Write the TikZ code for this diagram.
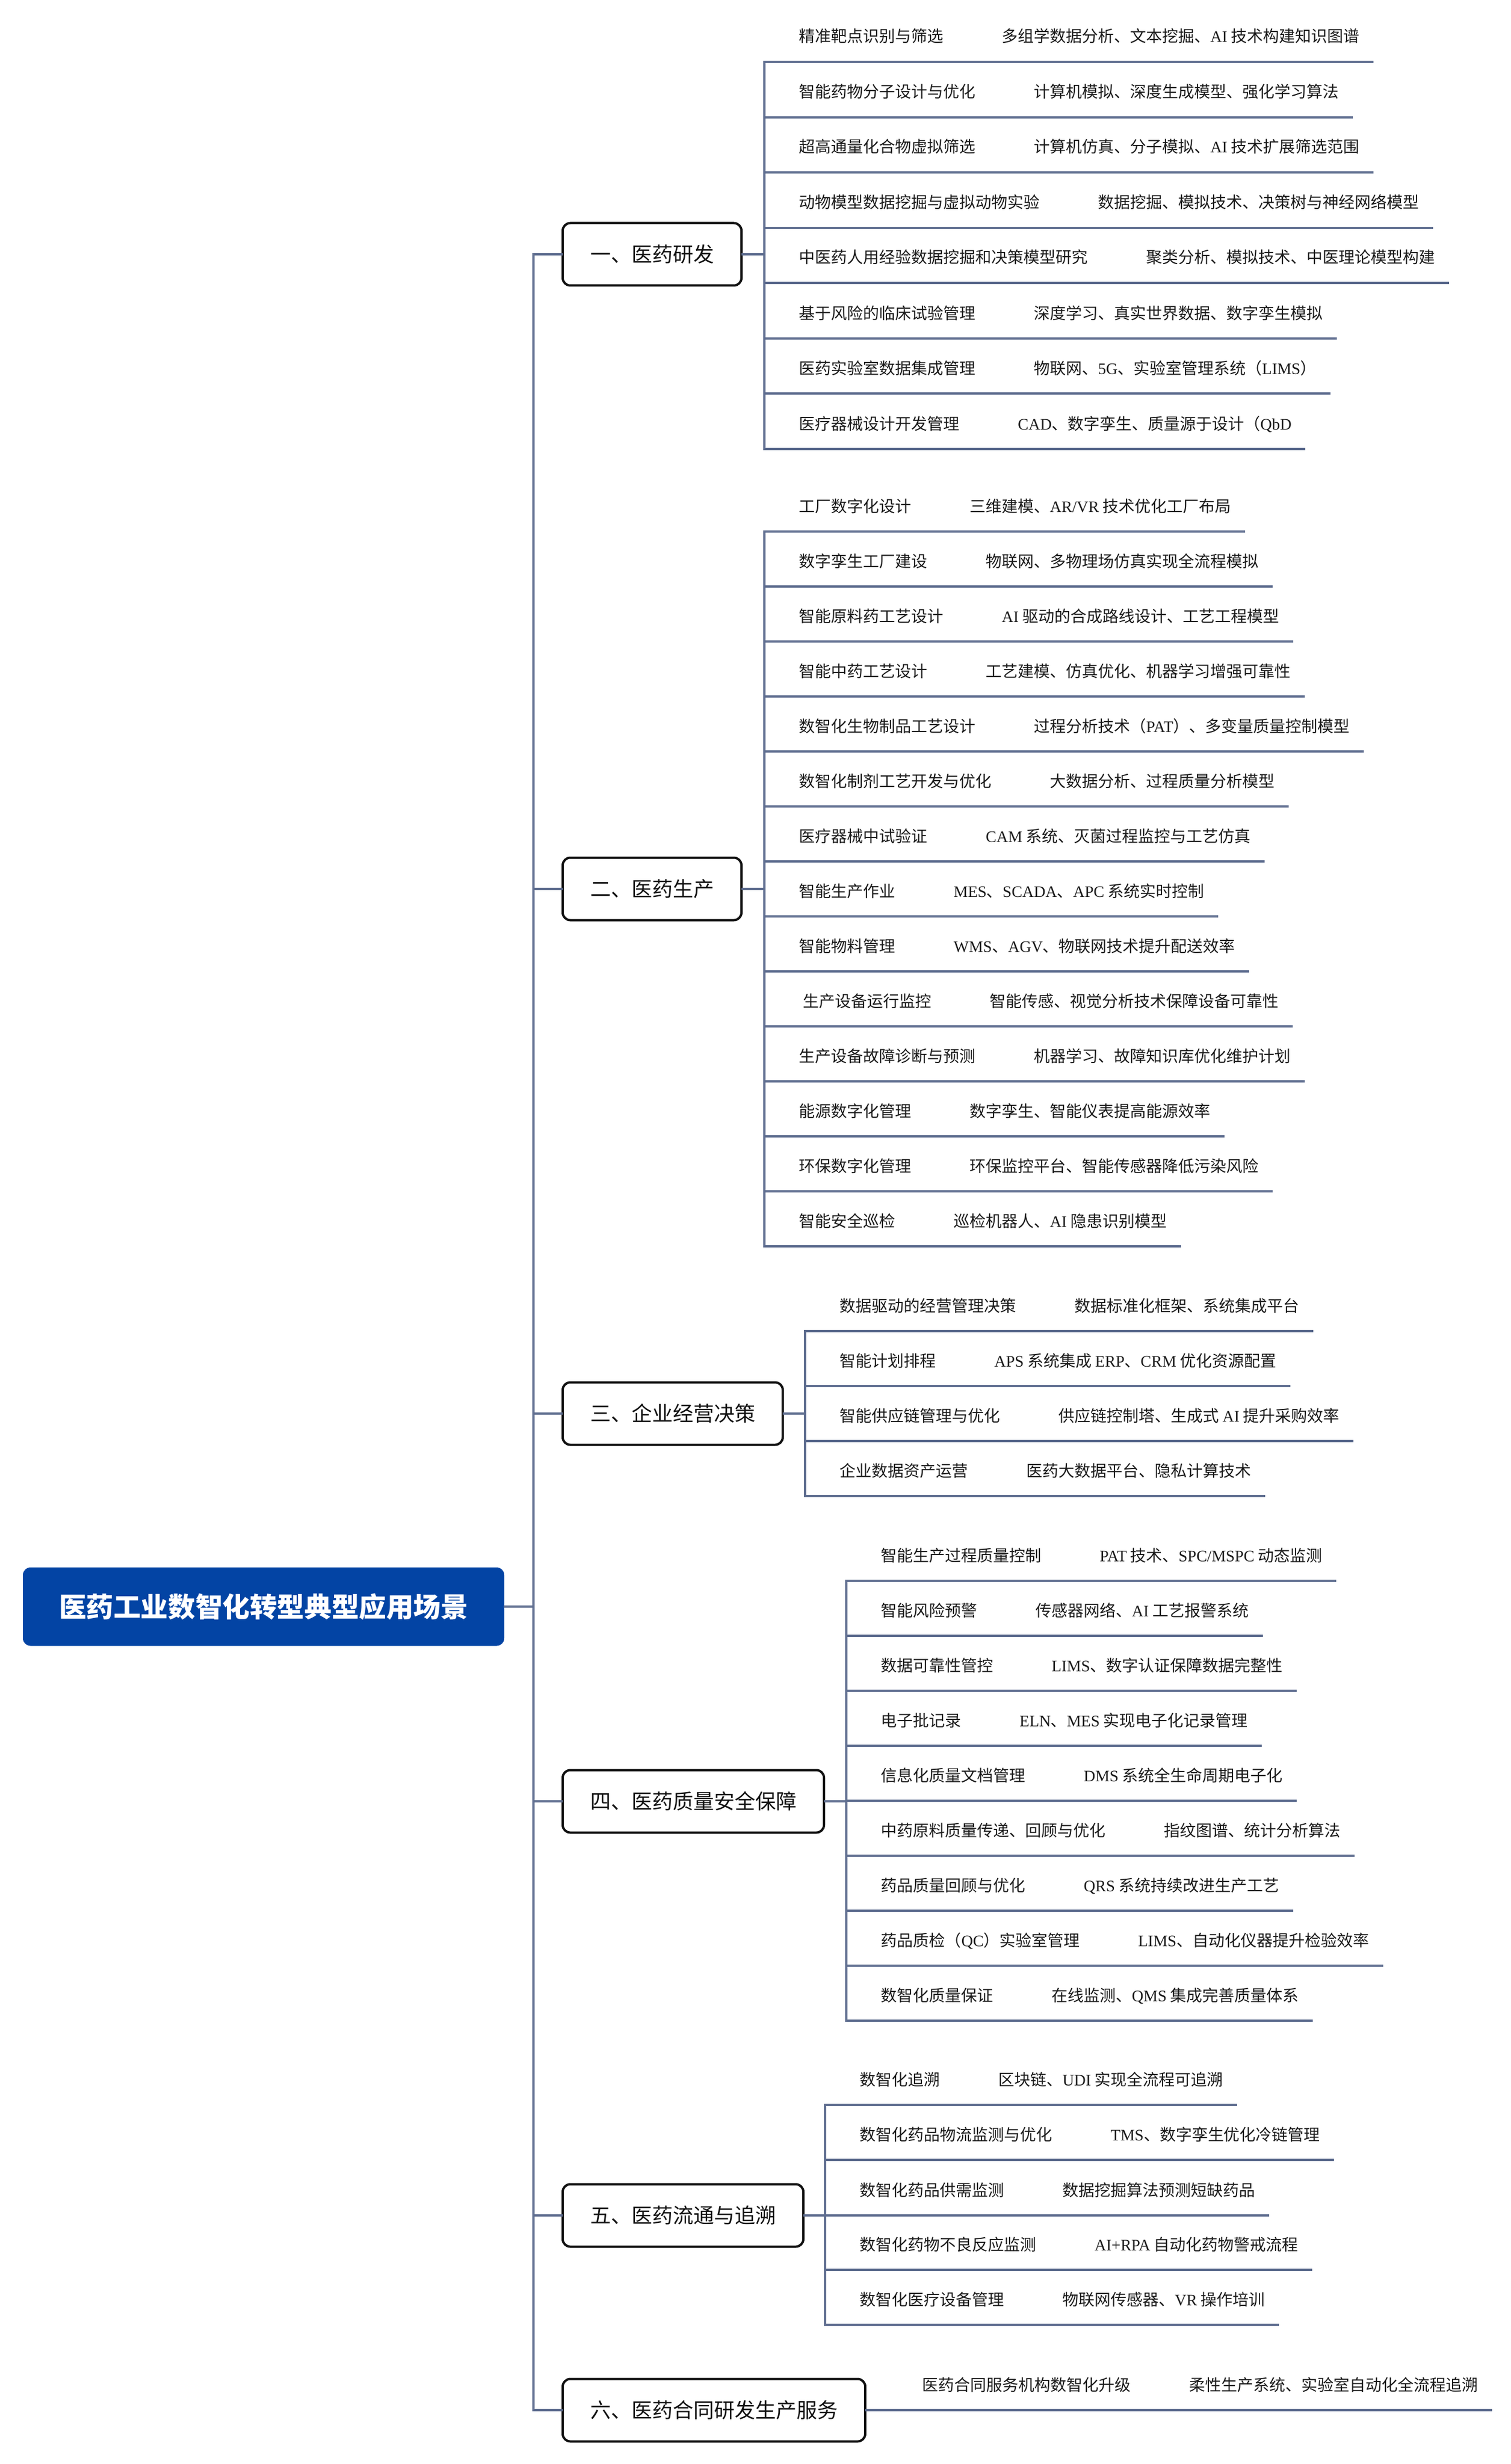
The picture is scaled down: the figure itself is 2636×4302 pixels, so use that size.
\documentclass[tikz,border=0pt]{standalone}
\usepackage{fontspec}
\setmainfont{Noto Sans CJK SC}
\newfontfamily\lat{Liberation Serif}
\definecolor{linec}{RGB}{94,109,143}
\definecolor{rootc}{RGB}{3,68,164}
\definecolor{boxc}{RGB}{17,17,17}
\definecolor{txtc}{RGB}{26,26,26}
\tikzset{
  lk/.style={draw=linec, line width=0.83pt, line cap=rect},
  leaftext/.style={font=\fontsize{7pt}{8pt}\selectfont, inner sep=0pt, anchor=base west, text=txtc},
  branchbox/.style={draw=boxc, line width=1pt, rounded corners=3.3pt, fill=white, anchor=west,
    font=\fontsize{9pt}{11pt}\selectfont, text=boxc, inner xsep=12pt, inner ysep=0pt, minimum height=27.25pt},
  rootbox/.style={fill=rootc, rounded corners=3.3pt, minimum width=210pt, minimum height=34.25pt,
    font=\fontsize{11.9pt}{14pt}\selectfont\bfseries, text=white, inner sep=0pt}
}
\newcommand\leafitem[6]{%
  \coordinate (#1s) at (#2,#4);
  \node[leaftext] (#1n) at (#3,#4-34) {#5};
  \node[leaftext] (#1t) at ([xshift=25pt]#1n.base east) {#6};
  \coordinate (#1e) at ([xshift=5.5pt]#1t.east);
  \draw[lk] (#1s) -- (#1e |- #1s);
}
\begin{document}
\begin{tikzpicture}[x=0.25pt,y=-0.25pt]
\useasboundingbox (0,0) rectangle (2636,4302);

% root
\node[rootbox] (root) at (460,2805) {医药工业数智化转型典型应用场景};

% main bus coordinates
\coordinate (m1) at (931,444);
\coordinate (m2) at (931,1552);
\coordinate (m3) at (931,2468);
\coordinate (m4) at (931,3145);
\coordinate (m5) at (931,3868);
\coordinate (m6) at (931,4208);
\draw[lk] (m1) -- (m6);
\draw[lk] (root.east) -- (root.east -| m1);

% ===== Section 1 =====
\node[branchbox] (b1) at (980,444) {一、医药研发};
\coordinate (j1) at (1334,444);
\leafitem{a1}{1334}{1394}{108}{精准靶点识别与筛选}{多组学数据分析、文本挖掘、{\lat AI} 技术构建知识图谱}
\leafitem{a2}{1334}{1394}{205}{智能药物分子设计与优化}{计算机模拟、深度生成模型、强化学习算法}
\leafitem{a3}{1334}{1394}{301}{超高通量化合物虚拟筛选}{计算机仿真、分子模拟、{\lat AI} 技术扩展筛选范围}
\leafitem{a4}{1334}{1394}{398}{动物模型数据挖掘与虚拟动物实验}{数据挖掘、模拟技术、决策树与神经网络模型}
\leafitem{a5}{1334}{1394}{494}{中医药人用经验数据挖掘和决策模型研究}{聚类分析、模拟技术、中医理论模型构建}
\leafitem{a6}{1334}{1394}{591}{基于风险的临床试验管理}{深度学习、真实世界数据、数字孪生模拟}
\leafitem{a7}{1334}{1394}{687}{医药实验室数据集成管理}{物联网、{\lat 5G}、实验室管理系统（{\lat LIMS}）}
\leafitem{a8}{1334}{1394}{784}{医疗器械设计开发管理}{{\lat CAD}、数字孪生、质量源于设计（{\lat QbD}}
\draw[lk] (a1s) -- (a8s);
\draw[lk] (m1) -- (b1.west);
\draw[lk] (b1.east) -- (j1);

% ===== Section 2 =====
\node[branchbox] (b2) at (980,1552) {二、医药生产};
\coordinate (j2) at (1334,1552);
\leafitem{c1}{1334}{1394}{928}{工厂数字化设计}{三维建模、{\lat AR/VR} 技术优化工厂布局}
\leafitem{c2}{1334}{1394}{1024}{数字孪生工厂建设}{物联网、多物理场仿真实现全流程模拟}
\leafitem{c3}{1334}{1394}{1120}{智能原料药工艺设计}{{\lat AI} 驱动的合成路线设计、工艺工程模型}
\leafitem{c4}{1334}{1394}{1216}{智能中药工艺设计}{工艺建模、仿真优化、机器学习增强可靠性}
\leafitem{c5}{1334}{1394}{1312}{数智化生物制品工艺设计}{过程分析技术（{\lat PAT}）、多变量质量控制模型}
\leafitem{c6}{1334}{1394}{1408}{数智化制剂工艺开发与优化}{大数据分析、过程质量分析模型}
\leafitem{c7}{1334}{1394}{1504}{医疗器械中试验证}{{\lat CAM} 系统、灭菌过程监控与工艺仿真}
\leafitem{c8}{1334}{1394}{1600}{智能生产作业}{{\lat MES}、{\lat SCADA}、{\lat APC} 系统实时控制}
\leafitem{c9}{1334}{1394}{1696}{智能物料管理}{{\lat WMS}、{\lat AGV}、物联网技术提升配送效率}
\leafitem{c10}{1334}{1401}{1792}{生产设备运行监控}{智能传感、视觉分析技术保障设备可靠性}
\leafitem{c11}{1334}{1394}{1888}{生产设备故障诊断与预测}{机器学习、故障知识库优化维护计划}
\leafitem{c12}{1334}{1394}{1984}{能源数字化管理}{数字孪生、智能仪表提高能源效率}
\leafitem{c13}{1334}{1394}{2080}{环保数字化管理}{环保监控平台、智能传感器降低污染风险}
\leafitem{c14}{1334}{1394}{2176}{智能安全巡检}{巡检机器人、{\lat AI} 隐患识别模型}
\draw[lk] (c1s) -- (c14s);
\draw[lk] (m2) -- (b2.west);
\draw[lk] (b2.east) -- (j2);

% ===== Section 3 =====
\node[branchbox] (b3) at (980,2468) {三、企业经营决策};
\coordinate (j3) at (1405,2468);
\leafitem{d1}{1405}{1465}{2324}{数据驱动的经营管理决策}{数据标准化框架、系统集成平台}
\leafitem{d2}{1405}{1465}{2420}{智能计划排程}{{\lat APS} 系统集成 {\lat ERP}、{\lat CRM} 优化资源配置}
\leafitem{d3}{1405}{1465}{2516}{智能供应链管理与优化}{供应链控制塔、生成式 {\lat AI} 提升采购效率}
\leafitem{d4}{1405}{1465}{2612}{企业数据资产运营}{医药大数据平台、隐私计算技术}
\draw[lk] (d1s) -- (d4s);
\draw[lk] (m3) -- (b3.west);
\draw[lk] (b3.east) -- (j3);

% ===== Section 4 =====
\node[branchbox] (b4) at (980,3145) {四、医药质量安全保障};
\coordinate (j4) at (1477,3145);
\leafitem{e1}{1477}{1537}{2760}{智能生产过程质量控制}{{\lat PAT} 技术、{\lat SPC/MSPC} 动态监测}
\leafitem{e2}{1477}{1537}{2856}{智能风险预警}{传感器网络、{\lat AI} 工艺报警系统}
\leafitem{e3}{1477}{1537}{2952}{数据可靠性管控}{{\lat LIMS}、数字认证保障数据完整性}
\leafitem{e4}{1477}{1537}{3048}{电子批记录}{{\lat ELN}、{\lat MES} 实现电子化记录管理}
\leafitem{e5}{1477}{1537}{3144}{信息化质量文档管理}{{\lat DMS} 系统全生命周期电子化}
\leafitem{e6}{1477}{1537}{3240}{中药原料质量传递、回顾与优化}{指纹图谱、统计分析算法}
\leafitem{e7}{1477}{1537}{3336}{药品质量回顾与优化}{{\lat QRS} 系统持续改进生产工艺}
\leafitem{e8}{1477}{1537}{3432}{药品质检（{\lat QC}）实验室管理}{{\lat LIMS}、自动化仪器提升检验效率}
\leafitem{e9}{1477}{1537}{3528}{数智化质量保证}{在线监测、{\lat QMS} 集成完善质量体系}
\draw[lk] (e1s) -- (e9s);
\draw[lk] (m4) -- (b4.west);
\draw[lk] (b4.east) -- (j4);

% ===== Section 5 =====
\node[branchbox] (b5) at (980,3868) {五、医药流通与追溯};
\coordinate (j5) at (1440,3868);
\leafitem{g1}{1440}{1500}{3675}{数智化追溯}{区块链、{\lat UDI} 实现全流程可追溯}
\leafitem{g2}{1440}{1500}{3771}{数智化药品物流监测与优化}{{\lat TMS}、数字孪生优化冷链管理}
\leafitem{g3}{1440}{1500}{3868}{数智化药品供需监测}{数据挖掘算法预测短缺药品}
\leafitem{g4}{1440}{1500}{3963}{数智化药物不良反应监测}{{\lat AI+RPA} 自动化药物警戒流程}
\leafitem{g5}{1440}{1500}{4059}{数智化医疗设备管理}{物联网传感器、{\lat VR} 操作培训}
\draw[lk] (g1s) -- (g5s);
\draw[lk] (m5) -- (b5.west);
\draw[lk] (b5.east) -- (j5);

% ===== Section 6 =====
\node[branchbox] (b6) at (980,4208) {六、医药合同研发生产服务};
\node[leaftext] (h1n) at (1609,4174) {医药合同服务机构数智化升级};
\node[leaftext] (h1t) at ([xshift=25pt]h1n.base east) {柔性生产系统、实验室自动化全流程追溯};
\coordinate (h1e) at ([xshift=5.5pt]h1t.east);
\draw[lk] (m6) -- (b6.west);
\draw[lk] (b6.east) -- (h1e |- b6.east);
\end{tikzpicture}
\end{document}
